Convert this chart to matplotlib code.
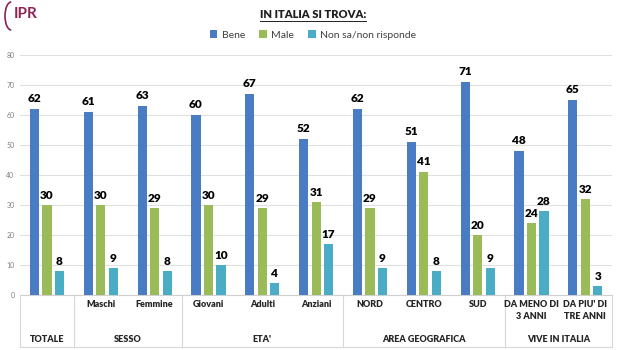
import matplotlib
matplotlib.use("Agg")
import matplotlib.pyplot as plt
import matplotlib.transforms as mtransforms
from matplotlib.patches import Arc
import numpy as np

plt.rcParams['font.family'] = ['Lato', 'DejaVu Sans']

categories = ["", "Maschi", "Femmine", "Giovani", "Adulti", "Anziani",
              "NORD", "CENTRO", "SUD", "DA MENO DI\n3 ANNI", "DA PIU' DI\nTRE ANNI"]
groups = ["TOTALE", "SESSO", "ETA'", "AREA GEOGRAFICA", "VIVE IN ITALIA"]
group_spans = [(0, 0), (1, 2), (3, 5), (6, 8), (9, 10)]
bene = [62, 61, 63, 60, 67, 52, 62, 51, 71, 48, 65]
male = [30, 30, 29, 30, 29, 31, 29, 41, 20, 24, 32]
nonsa = [8, 9, 8, 10, 4, 17, 9, 8, 9, 28, 3]
series_names = ["Bene", "Male", "Non sa/non risponde"]
colors = ["#4A7CC4", "#9BBB59", "#4BACC6"]

fig = plt.figure(figsize=(6.26, 3.5), dpi=100)
ax = fig.add_axes([0.032, 0.157, 0.946, 0.686])

x = np.arange(len(categories))
w = 0.17
off = 0.232
for vals, o, c, name in zip([bene, male, nonsa], [-off, 0, off], colors, series_names):
    ax.bar(x + o, vals, width=w, color=c, label=name, zorder=3)
    for xi, v in zip(x + o, vals):
        ax.text(xi, v + 1.5, str(v), ha='center', va='bottom', fontsize=8.5,
                fontweight='heavy', color='black')

ax.set_xlim(-0.5, len(categories) - 0.5)
ax.set_ylim(0, 80)
ax.set_yticks(range(0, 81, 10))
ax.tick_params(axis='y', labelsize=5, colors='#808080', length=0, pad=4)
ax.set_xticks([])
ax.grid(axis='y', color='#E0E0E0', linewidth=0.8, zorder=0)
for s in ['top', 'right', 'left']:
    ax.spines[s].set_visible(False)
ax.spines['bottom'].set_color('#D0D0D0')

# category labels below axis
trans = mtransforms.blended_transform_factory(ax.transData, fig.transFigure)
for xi, lab in zip(x, categories):
    if lab:
        ax.text(xi, 1 - 300 / 350, lab, transform=trans, ha='center', va='top',
                fontsize=6.5, fontweight='heavy', color='#262626', linespacing=1.4)
for g, (a, b) in zip(groups, group_spans):
    ax.text((a + b) / 2, 1 - 339 / 350, g, transform=trans, ha='center', va='center',
            fontsize=6.5, fontweight='heavy', color='#262626')
for bnd in [-0.5, 0.5, 2.5, 5.5, 8.5, 10.5]:
    ax.plot([bnd, bnd], [1 - 295 / 350, 1 - 347 / 350], transform=trans,
            color='#D8D8D8', linewidth=0.8, clip_on=False)
ax.plot([-0.5, 10.5], [1 - 347 / 350, 1 - 347 / 350], transform=trans,
        color='#D8D8D8', linewidth=0.8, clip_on=False)

# title
t = fig.text(0.5, 1 - 14 / 350, "IN ITALIA SI TROVA:", ha='center', va='center',
             fontsize=8, fontweight='heavy', color='#202020')
fig.canvas.draw()
bb = t.get_window_extent().transformed(fig.transFigure.inverted())
fig.add_artist(plt.Line2D([bb.x0, bb.x1], [bb.y0 - 0.003, bb.y0 - 0.003],
                          transform=fig.transFigure, color='#202020', linewidth=0.7))

# legend
leg = fig.legend(loc='center', bbox_to_anchor=(0.5, 1 - 35 / 350), ncol=3, frameon=False,
                 fontsize=7.5, handlelength=0.7, handleheight=0.7, handletextpad=0.4,
                 columnspacing=1.4)
for txt in leg.get_texts():
    txt.set_color('#404040')

# logo
fig.text(0.022, 1 - 14 / 350, "IPR", ha='left', va='center', fontsize=11,
         fontweight='bold', color='#8B2252')
arc = Arc((0.018, 1 - 16 / 350), 0.02, 0.08, theta1=90, theta2=270,
          transform=fig.transFigure, color='#8B2252', linewidth=1.2)
fig.add_artist(arc)

fig.savefig("out.png", dpi=100)
